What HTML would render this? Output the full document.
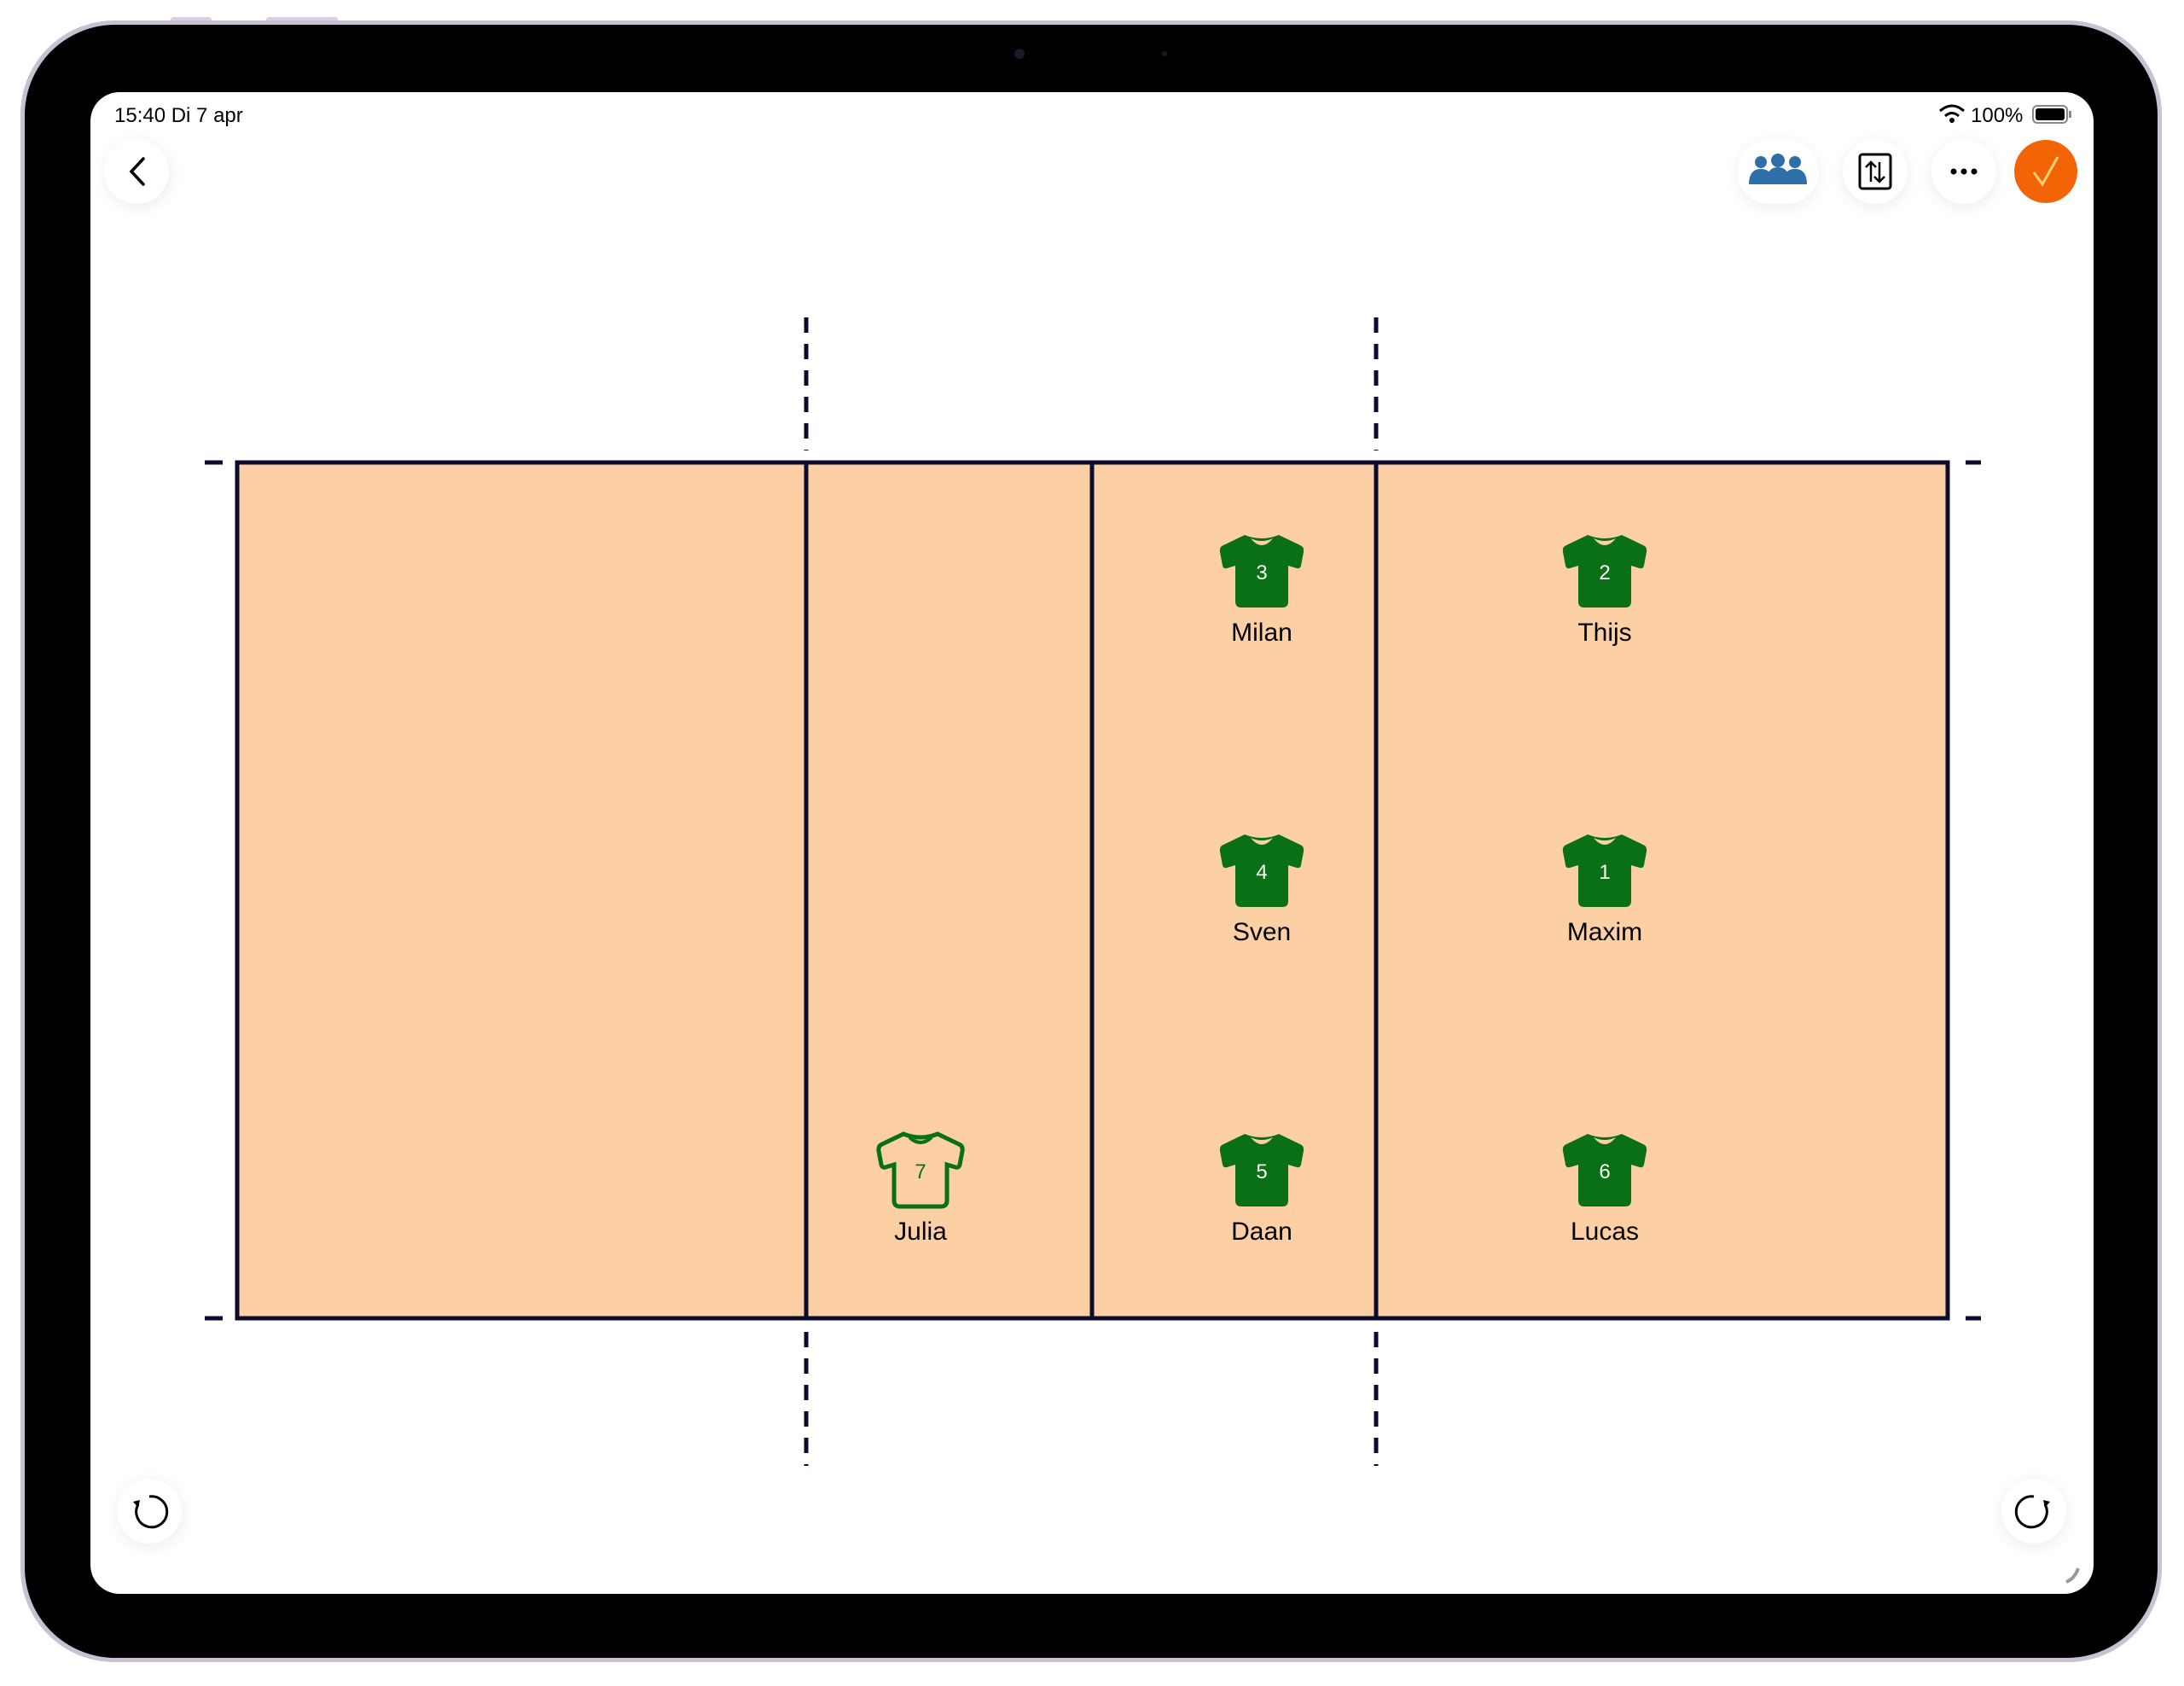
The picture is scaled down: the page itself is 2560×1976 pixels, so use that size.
<!DOCTYPE html>
<html><head><meta charset="utf-8"><style>
html,body{margin:0;padding:0;background:#fff;}
svg{display:block;}
text{font-family:"Liberation Sans",sans-serif;}
</style></head><body>
<svg width="2560" height="1976" viewBox="0 0 2560 1976" xmlns="http://www.w3.org/2000/svg">
<defs>
<path id="j" d="M -20,-42 Q 0,-34 20,-42 L 45,-30 Q 50,-28 49,-22 L 46,-6 Q 45,-2 41,-3 L 31,-6 L 31,36 Q 31,43 24,43 L -24,43 Q -31,43 -31,36 L -31,-6 L -41,-3 Q -45,-2 -46,-6 L -49,-22 Q -50,-28 -45,-30 Z"/>
<filter id="sh" x="-50%" y="-50%" width="200%" height="200%"><feGaussianBlur stdDeviation="8"/></filter>
</defs>
<rect x="200" y="20" width="48" height="6" rx="3" fill="#d8d0e0"/>
<rect x="312" y="20" width="84" height="6" rx="3" fill="#d8d0e0"/>
<rect x="24" y="24" width="2510" height="1924" rx="110" fill="#c9c0d3"/>
<rect x="29" y="29" width="2500" height="1914" rx="106" fill="#000"/>
<rect x="106" y="108" width="2348" height="1760" rx="34" fill="#fff"/>
<circle cx="1195" cy="63" r="6" fill="#1a1a2a"/>
<circle cx="1365" cy="63" r="3" fill="#1a1a1a"/>
<text x="134" y="143" font-size="24" fill="#000">15:40  Di 7 apr</text>
<text x="2310" y="143" font-size="24" fill="#000">100%</text>
<path d="M2274 130 q14 -12 28 0 M2280 136 q8 -7 16 0" stroke="#000" stroke-width="3" fill="none"/>
<circle cx="2288" cy="141" r="3" fill="#000"/>
<rect x="2383" y="124" width="40" height="20" rx="5" fill="none" stroke="#888" stroke-width="2"/>
<rect x="2386" y="127" width="34" height="14" rx="3" fill="#000"/>
<rect x="2425" y="130" width="3" height="8" fill="#888"/>
<!-- buttons -->
<g fill="#000" opacity="0.06" filter="url(#sh)">
<circle cx="162" cy="205" r="40"/><rect x="2036" y="165" width="96" height="80" rx="40"/>
<circle cx="2198" cy="205" r="40"/><circle cx="2302" cy="205" r="40"/>
<circle cx="176" cy="1775" r="40"/><circle cx="2384" cy="1775" r="40"/>
</g>
<circle cx="160" cy="201" r="38" fill="#fff"/>
<path d="M168 186 L154 201 L168 216" stroke="#000" stroke-width="3.5" fill="none" stroke-linecap="round"/>
<rect x="2036" y="163" width="96" height="76" rx="38" fill="#fff"/>
<g fill="#2f6fa8">
<circle cx="2064" cy="190" r="7"/><circle cx="2084" cy="188" r="8"/><circle cx="2104" cy="190" r="7"/>
<path d="M2050 216 q0 -18 14 -18 q14 0 14 18 z M2070 216 q0 -20 14 -20 q14 0 14 20 z M2090 216 q0 -18 14 -18 q14 0 14 18 z"/>
</g>
<circle cx="2198" cy="201" r="38" fill="#fff"/>
<rect x="2180" y="181" width="36" height="40" rx="3" fill="none" stroke="#000" stroke-width="3"/>
<path d="M2193 213 V190 M2187 196 L2193 190 L2199 196 M2203 190 V213 M2197 207 L2203 213 L2209 207" stroke="#000" stroke-width="2.5" fill="none"/>
<circle cx="2302" cy="201" r="38" fill="#fff"/>
<circle cx="2290" cy="201" r="3.5" fill="#000"/><circle cx="2302" cy="201" r="3.5" fill="#000"/><circle cx="2314" cy="201" r="3.5" fill="#000"/>
<circle cx="2398" cy="201" r="37" fill="#f26406"/>
<path d="M2384 202 L2394 216 L2412 184" stroke="#ffd27a" stroke-width="3" fill="none"/>
<circle cx="175" cy="1771" r="38" fill="#fff"/>
<path d="M162 1763 A18 18 0 1 0 175 1754" stroke="#000" stroke-width="3" fill="none"/>
<path d="M156 1760 l8 -2 l-2 9 z" fill="#000"/>
<circle cx="2384" cy="1771" r="38" fill="#fff"/>
<path d="M2397 1763 A18 18 0 1 1 2384 1754" stroke="#000" stroke-width="3" fill="none"/>
<path d="M2403 1760 l-8 -2 l2 9 z" fill="#000"/>
<path d="M2436 1838 q-4 12 -14 16" stroke="#999" stroke-width="4" fill="none"/>
<!-- court -->
<rect x="278" y="542" width="2005" height="1003" fill="#fdcfa4" stroke="#0b0b2e" stroke-width="5"/>
<g stroke="#0b0b2e" stroke-width="5">
<line x1="945" y1="542" x2="945" y2="1545"/><line x1="1280" y1="542" x2="1280" y2="1545"/><line x1="1613" y1="542" x2="1613" y2="1545"/>
<line x1="240" y1="542" x2="261" y2="542"/><line x1="2304" y1="542" x2="2322" y2="542"/>
<line x1="240" y1="1545" x2="261" y2="1545"/><line x1="2304" y1="1545" x2="2322" y2="1545"/>
</g>
<g stroke="#0b0b2e" stroke-width="5" stroke-dasharray="18 13">
<line x1="945" y1="372" x2="945" y2="528"/><line x1="1613" y1="372" x2="1613" y2="528"/>
<line x1="945" y1="1561" x2="945" y2="1718"/><line x1="1613" y1="1561" x2="1613" y2="1718"/>
</g>
<!-- players -->
<g font-size="30" text-anchor="middle">
<g transform="translate(1479,669)"><use href="#j" fill="#0a7015"/><path d="M-13,-38 Q0,-22 13,-38 Q0,-32 -13,-38Z" fill="#fdcfa4"/><text y="10" font-size="24" fill="#fff">3</text><text y="82" fill="#000">Milan</text></g>
<g transform="translate(1881,669)"><use href="#j" fill="#0a7015"/><path d="M-13,-38 Q0,-22 13,-38 Q0,-32 -13,-38Z" fill="#fdcfa4"/><text y="10" font-size="24" fill="#fff">2</text><text y="82" fill="#000">Thijs</text></g>
<g transform="translate(1479,1020)"><use href="#j" fill="#0a7015"/><path d="M-13,-38 Q0,-22 13,-38 Q0,-32 -13,-38Z" fill="#fdcfa4"/><text y="10" font-size="24" fill="#fff">4</text><text y="82" fill="#000">Sven</text></g>
<g transform="translate(1881,1020)"><use href="#j" fill="#0a7015"/><path d="M-13,-38 Q0,-22 13,-38 Q0,-32 -13,-38Z" fill="#fdcfa4"/><text y="10" font-size="24" fill="#fff">1</text><text y="82" fill="#000">Maxim</text></g>
<g transform="translate(1479,1371)"><use href="#j" fill="#0a7015"/><path d="M-13,-38 Q0,-22 13,-38 Q0,-32 -13,-38Z" fill="#fdcfa4"/><text y="10" font-size="24" fill="#fff">5</text><text y="82" fill="#000">Daan</text></g>
<g transform="translate(1881,1371)"><use href="#j" fill="#0a7015"/><path d="M-13,-38 Q0,-22 13,-38 Q0,-32 -13,-38Z" fill="#fdcfa4"/><text y="10" font-size="24" fill="#fff">6</text><text y="82" fill="#000">Lucas</text></g>
<g transform="translate(1079,1371)"><use href="#j" fill="none" stroke="#0a7015" stroke-width="5"/><path d="M-13,-38 Q0,-26 13,-38" fill="none" stroke="#0a7015" stroke-width="4"/><text y="10" font-size="24" fill="#0a7015">7</text><text y="82" fill="#000">Julia</text></g>
</g>
</svg>
</body></html>
